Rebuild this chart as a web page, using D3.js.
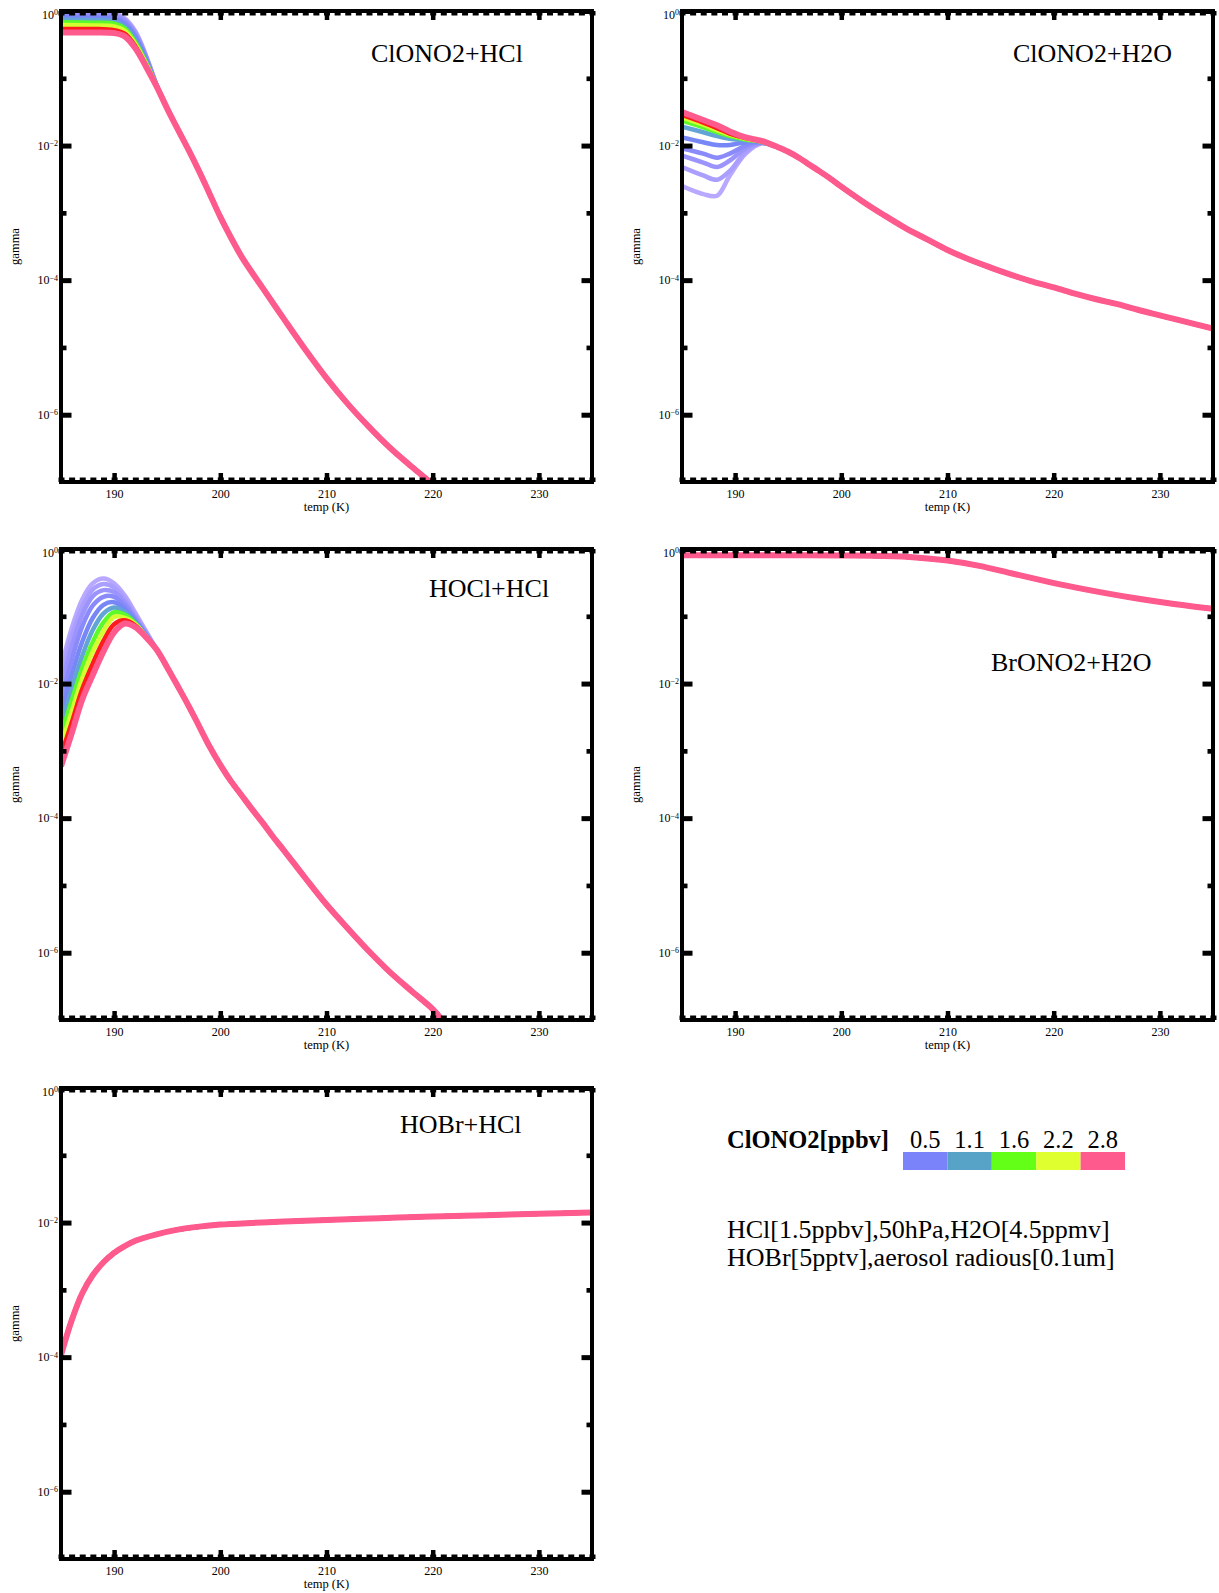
<!DOCTYPE html>
<html>
<head>
<meta charset="utf-8">
<script src="https://cdn.jsdelivr.net/npm/d3@7"></script>
<style>
  body { margin: 0; background: #fff; }
</style>
</head>
<body>
<script>
// ClONO2 mixing ratios (ppbv), one curve per value
const clono2Levels = [0.5, 0.6, 0.7, 0.9, 1.1, 1.4, 1.7, 2.1, 2.6, 2.8];
const levelColors = ['#b9a8ff', '#aa9eff', '#9c94fd', '#8a8afb', '#7787f6', '#62a4d6', '#5cfa2a', '#d4ff30', '#ff1c1c', '#ff5a8e'];

const legendLabels = ['0.5', '1.1', '1.6', '2.2', '2.8'];
const legendColors = ['#7b83fa', '#57a3c8', '#63ff16', '#e0ff2f', '#ff5a8e'];

const panelTitles = ['ClONO2+HCl', 'ClONO2+H2O', 'HOCl+HCl', 'BrONO2+H2O', 'HOBr+HCl'];
const noteLines = ['HCl[1.5ppbv],50hPa,H2O[4.5ppmv]', 'HOBr[5pptv],aerosol radious[0.1um]'];

const xMajorTicks = [190, 200, 210, 220, 230];
const yMajorTicks = [1, 1e-2, 1e-4, 1e-6];
const yMinorTicks = [1e-1, 1e-3, 1e-5];

// ClONO2+HCl : low-T part differs per level, warm tail is shared
const hclBandTemps = [185, 188, 190, 191, 192, 193, 194];
const hclBandGamma = [
    [0.99, 0.98, 0.93, 0.78, 0.50, 0.22, 0.080],
    [0.95, 0.94, 0.90, 0.75, 0.48, 0.21, 0.079],
    [0.91, 0.90, 0.86, 0.72, 0.46, 0.21, 0.079],
    [0.85, 0.84, 0.81, 0.68, 0.43, 0.20, 0.078],
    [0.80, 0.79, 0.76, 0.64, 0.40, 0.19, 0.078],
    [0.74, 0.73, 0.70, 0.59, 0.37, 0.18, 0.077],
    [0.68, 0.67, 0.65, 0.55, 0.34, 0.17, 0.077],
    [0.62, 0.61, 0.59, 0.51, 0.32, 0.165, 0.077],
    [0.54, 0.54, 0.52, 0.46, 0.30, 0.155, 0.076],
    [0.48, 0.48, 0.47, 0.42, 0.28, 0.15, 0.076]
];
const hclTailTemps = [195, 196, 197, 198, 199, 200, 201, 202, 203, 204, 206, 208, 210, 212, 214, 216, 218, 220];
const hclTailGamma = [0.0355, 0.0174, 0.0087, 0.00417, 0.00191, 8.7e-4, 4.3e-4, 2.24e-4, 1.29e-4, 7.6e-5, 2.63e-5, 9.3e-6, 3.5e-6, 1.45e-6, 6.6e-7, 3.2e-7, 1.7e-7, 9.3e-8];

// ClONO2+H2O
const h2oBandTemps = [185, 187, 188.3, 189.5, 191, 192.5, 194];
const h2oBandGamma = [
    [0.0025, 0.0019, 0.0018, 0.0036, 0.0076, 0.0107, 0.0095],
    [0.0048, 0.0036, 0.0031, 0.0042, 0.0081, 0.0110, 0.0095],
    [0.0071, 0.0056, 0.0048, 0.0060, 0.0091, 0.0110, 0.0095],
    [0.0091, 0.0076, 0.0066, 0.0076, 0.0100, 0.0112, 0.0095],
    [0.0132, 0.0112, 0.0102, 0.0102, 0.0112, 0.0112, 0.0095],
    [0.0191, 0.0158, 0.0138, 0.0126, 0.0120, 0.0112, 0.0095],
    [0.0234, 0.0186, 0.0158, 0.0138, 0.0123, 0.0115, 0.0095],
    [0.0263, 0.0204, 0.0170, 0.0145, 0.0126, 0.0115, 0.0095],
    [0.0285, 0.0219, 0.0182, 0.0151, 0.0129, 0.0117, 0.0095],
    [0.0316, 0.0240, 0.0200, 0.0162, 0.0132, 0.0117, 0.0095]
];
const h2oTailTemps = [195, 196, 197, 198, 199, 200, 202, 204, 206, 208, 210, 212, 214, 216, 218, 220, 222, 224, 226, 228, 230, 232, 235];
const h2oTailGamma = [0.0081, 0.0066, 0.0052, 0.0041, 0.0032, 0.00245, 0.00148, 9.3e-4, 6.0e-4, 4.1e-4, 2.8e-4, 2.04e-4, 1.55e-4, 1.2e-4, 9.5e-5, 7.8e-5, 6.3e-5, 5.2e-5, 4.4e-5, 3.6e-5, 3.0e-5, 2.5e-5, 1.9e-5];

// HOCl+HCl
const hoclBandTemps = [185, 186, 187, 188, 189, 190, 191, 192, 193, 194];
const hoclBandGamma = [
    [0.017, 0.066, 0.178, 0.309, 0.363, 0.309, 0.204, 0.112, 0.060, 0.032],
    [0.0126, 0.050, 0.138, 0.251, 0.302, 0.269, 0.182, 0.102, 0.058, 0.032],
    [0.0089, 0.035, 0.105, 0.200, 0.245, 0.229, 0.162, 0.095, 0.055, 0.032],
    [0.0056, 0.022, 0.071, 0.145, 0.195, 0.195, 0.145, 0.089, 0.054, 0.032],
    [0.0035, 0.0132, 0.042, 0.095, 0.148, 0.162, 0.129, 0.085, 0.052, 0.032],
    [0.0024, 0.0083, 0.026, 0.063, 0.110, 0.135, 0.115, 0.081, 0.051, 0.032],
    [0.0017, 0.0055, 0.017, 0.042, 0.081, 0.115, 0.105, 0.078, 0.050, 0.032],
    [0.0012, 0.0038, 0.0120, 0.030, 0.060, 0.098, 0.095, 0.076, 0.050, 0.032],
    [8.7e-4, 0.0026, 0.0083, 0.020, 0.043, 0.076, 0.087, 0.073, 0.049, 0.032],
    [5.9e-4, 0.0018, 0.0058, 0.0135, 0.030, 0.058, 0.078, 0.069, 0.049, 0.032]
];
const hoclTailTemps = [195, 196, 197, 198, 199, 200, 201, 202, 203, 204, 205, 206, 208, 210, 212, 214, 216, 218, 220, 221];
const hoclTailGamma = [0.0174, 0.0091, 0.0047, 0.00234, 0.00115, 6.2e-4, 3.55e-4, 2.19e-4, 1.35e-4, 8.5e-5, 5.2e-5, 3.3e-5, 1.29e-5, 5.2e-6, 2.3e-6, 1.05e-6, 5.1e-7, 2.7e-7, 1.45e-7, 9.5e-8];

// BrONO2+H2O and HOBr+HCl: all ClONO2 levels give the same curve
const brTemps = [185, 190, 195, 200, 204, 207, 210, 213, 216, 219, 222, 225, 228, 231, 235];
const brGamma = [0.81, 0.81, 0.81, 0.80, 0.785, 0.75, 0.676, 0.562, 0.436, 0.339, 0.269, 0.219, 0.182, 0.155, 0.129];

const hobrTemps = [185, 186, 187, 188, 189, 190, 191, 192, 194, 196, 198, 200, 203, 206, 210, 215, 220, 225, 230, 235];
const hobrGamma = [1.07e-4, 3.5e-4, 8.9e-4, 0.00166, 0.00257, 0.00355, 0.00447, 0.00537, 0.00668, 0.00785, 0.0087, 0.00933, 0.00989, 0.01035, 0.01096, 0.01161, 0.0123, 0.0129, 0.0135, 0.0141];


const serif = "'Liberation Serif', 'Times New Roman', Times, serif";
const width = 1219, height = 1593;
const plotW = 531, plotH = 471;

// left/top of each frame, and where the reaction name sits inside it
const panels = [
    { left: 61,  top: 11,   titleX: 310, titleY: 51 },
    { left: 682, top: 11,   titleX: 331, titleY: 51 },
    { left: 61,  top: 549,  titleX: 368, titleY: 48 },
    { left: 682, top: 549,  titleX: 309, titleY: 122 },
    { left: 61,  top: 1088, titleX: 339, titleY: 45 }
];

function bandSeries(bandTemps, bandGamma, tailTemps, tailGamma) {
    const temps = bandTemps.concat(tailTemps);
    return clono2Levels.map((level, i) => {
        const gamma = bandGamma[i].concat(tailGamma);
        return { level, color: levelColors[i], points: temps.map((t, j) => ({ t, g: gamma[j] })) };
    });
}

function sharedSeries(temps, gamma) {
    return clono2Levels.map((level, i) => ({
        level, color: levelColors[i], points: temps.map((t, j) => ({ t, g: gamma[j] }))
    }));
}

const panelSeries = [
    bandSeries(hclBandTemps, hclBandGamma, hclTailTemps, hclTailGamma),
    bandSeries(h2oBandTemps, h2oBandGamma, h2oTailTemps, h2oTailGamma),
    bandSeries(hoclBandTemps, hoclBandGamma, hoclTailTemps, hoclTailGamma),
    sharedSeries(brTemps, brGamma),
    sharedSeries(hobrTemps, hobrGamma)
];

const svg = d3.select('body').append('svg')
    .attr('width', width)
    .attr('height', height)
    .style('font-family', serif);

function styleAxis(g, strokeWidth) {
    g.select('.domain').remove();
    g.selectAll('.tick line').attr('stroke', '#000').attr('stroke-width', strokeWidth);
    g.attr('font-family', serif).attr('font-size', 12);
    g.selectAll('.tick text').attr('fill', '#000');
}

function drawPanel(p, i) {
    const x = d3.scaleLinear().domain([185, 235]).range([p.left, p.left + plotW]);
    const y = d3.scaleLog().domain([1e-7, 1]).range([p.top + plotH, p.top]);
    const g = svg.append('g');
    const bottom = p.top + plotH, right = p.left + plotW;
    const xMinor = d3.range(185, 236);

    g.append('clipPath').attr('id', 'clip' + i)
        .append('rect')
        .attr('x', p.left).attr('y', p.top)
        .attr('width', plotW).attr('height', plotH);

    const line = d3.line()
        .x(d => x(d.t))
        .y(d => y(d.g))
        .curve(d3.curveCatmullRom.alpha(0.5));

    g.append('g').attr('clip-path', `url(#clip${i})`)
        .selectAll('path')
        .data(panelSeries[i])
        .enter()
        .append('path')
            .attr('d', d => line(d.points))
            .attr('fill', 'none')
            .attr('stroke', d => d.color)
            .attr('stroke-width', d => d.level === 2.8 ? 6 : 4.5)
            .attr('stroke-linejoin', 'round');

    // x ticks, bottom and top, pointing inwards
    g.append('g').attr('transform', `translate(0,${bottom})`)
        .call(d3.axisBottom(x).tickValues(xMinor).tickSize(-4.5).tickSizeOuter(0).tickFormat(''))
        .call(a => styleAxis(a, 6));
    g.append('g').attr('transform', `translate(0,${bottom})`)
        .call(d3.axisBottom(x).tickValues(xMajorTicks).tickSize(-9).tickSizeOuter(0).tickPadding(7).tickFormat(d3.format('d')))
        .call(a => styleAxis(a, 4.5));
    g.append('g').attr('transform', `translate(0,${p.top})`)
        .call(d3.axisTop(x).tickValues(xMinor).tickSize(-4.5).tickSizeOuter(0).tickFormat(''))
        .call(a => styleAxis(a, 6));
    g.append('g').attr('transform', `translate(0,${p.top})`)
        .call(d3.axisTop(x).tickValues(xMajorTicks).tickSize(-9).tickSizeOuter(0).tickFormat(''))
        .call(a => styleAxis(a, 4.5));

    // y ticks, left with 10^n labels, right mirrored
    const yLeft = g.append('g').attr('transform', `translate(${p.left},0)`)
        .call(d3.axisLeft(y).tickValues(yMajorTicks).tickSize(-10.5).tickSizeOuter(0).tickPadding(3))
        .call(a => styleAxis(a, 5));
    yLeft.selectAll('.tick text')
        .attr('dy', d => d === 1 ? '0.62em' : '0.32em')
        .each(function(d) {
            const t = d3.select(this);
            const exp = Math.round(Math.log10(d));
            t.text(null);
            t.append('tspan').text('10');
            t.append('tspan').attr('dy', '-0.45em').attr('font-size', 8)
                .text(exp === 0 ? '0' : '\u2212' + (-exp));
        });
    g.append('g').attr('transform', `translate(${p.left},0)`)
        .call(d3.axisLeft(y).tickValues(yMinorTicks).tickSize(-5.5).tickSizeOuter(0).tickFormat(''))
        .call(a => styleAxis(a, 4.7));
    g.append('g').attr('transform', `translate(${right},0)`)
        .call(d3.axisRight(y).tickValues(yMajorTicks).tickSize(-10.5).tickSizeOuter(0).tickFormat(''))
        .call(a => styleAxis(a, 5));
    g.append('g').attr('transform', `translate(${right},0)`)
        .call(d3.axisRight(y).tickValues(yMinorTicks).tickSize(-5.5).tickSizeOuter(0).tickFormat(''))
        .call(a => styleAxis(a, 4.7));

    g.append('rect')
        .attr('x', p.left).attr('y', p.top)
        .attr('width', plotW).attr('height', plotH)
        .attr('fill', 'none')
        .attr('stroke', '#000')
        .attr('stroke-width', 4);

    g.append('text')
        .attr('x', p.left + plotW / 2)
        .attr('y', bottom + 29)
        .attr('text-anchor', 'middle')
        .attr('font-size', 12.5)
        .text('temp (K)');

    g.append('text')
        .attr('transform', `translate(${p.left - 42.5},${p.top + plotH / 2}) rotate(-90)`)
        .attr('text-anchor', 'middle')
        .attr('font-size', 12.5)
        .text('gamma');

    g.append('text')
        .attr('x', p.left + p.titleX)
        .attr('y', p.top + p.titleY)
        .attr('font-size', 26)
        .text(panelTitles[i]);
}

panels.forEach(drawPanel);

// Legend for the ClONO2 colours
const legendX = d3.scaleBand().domain(legendLabels).range([903, 1125]);

svg.append('text')
    .attr('x', 727).attr('y', 1148)
    .attr('font-size', 24.5)
    .attr('font-weight', 'bold')
    .text('ClONO2[ppbv]');

svg.selectAll('rect.legend')
    .data(legendLabels)
    .enter()
    .append('rect')
        .attr('class', 'legend')
        .attr('x', d => legendX(d))
        .attr('y', 1152)
        .attr('width', legendX.bandwidth())
        .attr('height', 18)
        .attr('fill', (d, i) => legendColors[i]);

svg.selectAll('text.legend-label')
    .data(legendLabels)
    .enter()
    .append('text')
        .attr('class', 'legend-label')
        .attr('x', d => legendX(d) + legendX.bandwidth() / 2)
        .attr('y', 1148)
        .attr('text-anchor', 'middle')
        .attr('font-size', 24.5)
        .text(d => d);

svg.selectAll('text.note')
    .data(noteLines)
    .enter()
    .append('text')
        .attr('class', 'note')
        .attr('x', 727)
        .attr('y', (d, i) => 1238 + i * 28)
        .attr('font-size', 26)
        .text(d => d);
</script>
</body>
</html>
